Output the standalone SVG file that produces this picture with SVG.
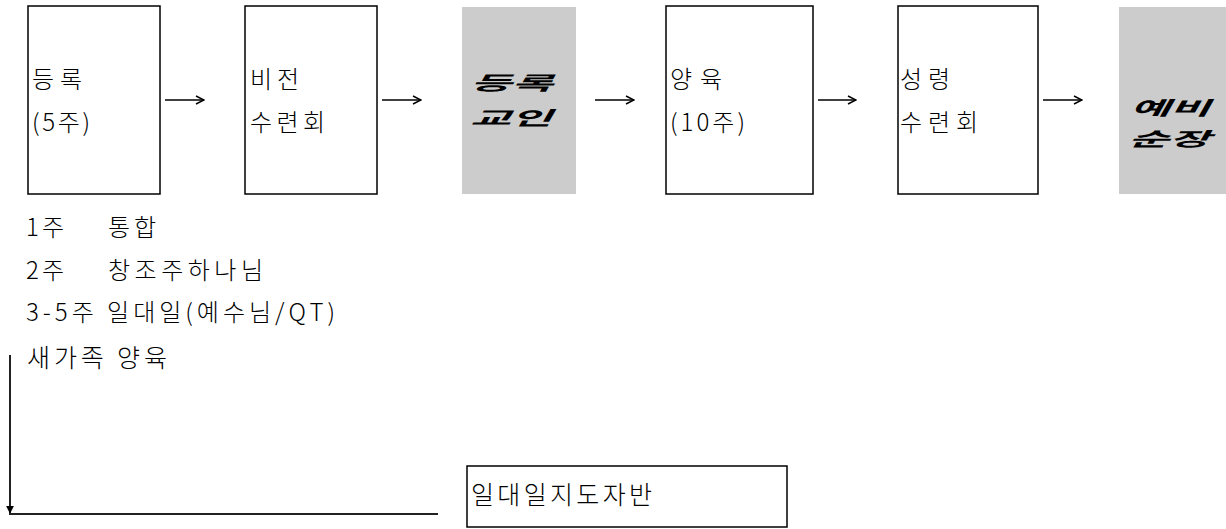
<svg xmlns="http://www.w3.org/2000/svg" width="1226" height="529" viewBox="0 0 1226 529">
<style>
.box{fill:#ffffff;stroke:#000000;stroke-width:1.5}
.gray{fill:#cccccc;stroke:none}
.t{font-family:"Noto Sans CJK KR","Liberation Sans",sans-serif;font-size:24px;fill:#000000;font-weight:300}
.bi{font-family:"Noto Sans CJK KR",sans-serif;font-size:19px;font-weight:700;font-style:italic;fill:#000000}
.s{font-family:"Noto Sans CJK KR","Liberation Serif",serif;font-size:25px;fill:#000000;font-weight:300}
.ln{stroke:#000000;stroke-width:1.5;fill:none}
.ln2{stroke:#222222;stroke-width:2;fill:none}
</style>
<defs>
<marker id="open" viewBox="0 0 10 10" refX="9" refY="5" markerWidth="10" markerHeight="10" markerUnits="userSpaceOnUse" orient="auto">
<path d="M1,1 L9,5 L1,9" fill="none" stroke="#000" stroke-width="1.4"/>
</marker>
<marker id="fill" viewBox="0 0 10 10" refX="9" refY="5" markerWidth="8" markerHeight="8" markerUnits="userSpaceOnUse" orient="auto">
<path d="M0,0 L10,5 L0,10 Z" fill="#000"/>
</marker>
</defs>
<g id="n1">
<rect class="box" x="28" y="6" width="132" height="188"/>
<text class="t" x="32" y="88" textLength="50" lengthAdjust="spacing">등록</text>
<text class="t" x="32" y="131" textLength="58" lengthAdjust="spacing">(5주)</text>
</g>
<g id="n2">
<rect class="box" x="245" y="6" width="132" height="188"/>
<text class="t" x="250" y="88" textLength="49" lengthAdjust="spacing">비전</text>
<text class="t" x="250" y="131" textLength="75" lengthAdjust="spacing">수련회</text>
</g>
<g id="n3">
<rect class="gray" x="462" y="7" width="114" height="187"/>
<text class="bi" x="470" y="90" textLength="83" lengthAdjust="spacingAndGlyphs">등록</text>
<text class="bi" x="470" y="125" textLength="82" lengthAdjust="spacingAndGlyphs">교인</text>
</g>
<g id="n4">
<rect class="box" x="666" y="6" width="147" height="188"/>
<text class="t" x="670" y="88" textLength="52" lengthAdjust="spacing">양육</text>
<text class="t" x="670" y="131" textLength="75" lengthAdjust="spacing">(10주)</text>
</g>
<g id="n5">
<rect class="box" x="898" y="6" width="140" height="188"/>
<text class="t" x="900" y="88" textLength="50" lengthAdjust="spacing">성령</text>
<text class="t" x="900" y="131" textLength="78" lengthAdjust="spacing">수련회</text>
</g>
<g id="n6">
<rect class="gray" x="1119" y="7" width="107" height="187"/>
<text class="bi" x="1130" y="115" textLength="80" lengthAdjust="spacingAndGlyphs">예비</text>
<text class="bi" x="1128" y="146" textLength="82" lengthAdjust="spacingAndGlyphs">순장</text>
</g>
<g id="notes">
<text class="t" x="26" y="236" textLength="38" lengthAdjust="spacing">1주</text>
<text class="t" x="108" y="236" textLength="48" lengthAdjust="spacing">통합</text>
<text class="t" x="26" y="279" textLength="38" lengthAdjust="spacing">2주</text>
<text class="t" x="108" y="279" textLength="155" lengthAdjust="spacing">창조주하나님</text>
<text class="t" x="26" y="321" textLength="309" lengthAdjust="spacing">3-5주 일대일(예수님/QT)</text>
</g>
<g id="n7">
<text class="s" x="27" y="367" textLength="140" lengthAdjust="spacing">새가족 양육</text>
</g>
<g id="n8">
<rect class="box" x="467" y="466" width="320" height="61"/>
<text class="s" x="471" y="504" textLength="181" lengthAdjust="spacing">일대일지도자반</text>
</g>
<g id="connectors">
<line class="ln" x1="165" y1="100" x2="204" y2="100" marker-end="url(#open)"/>
<line class="ln" x1="382" y1="100" x2="421" y2="100" marker-end="url(#open)"/>
<line class="ln" x1="595" y1="100" x2="634" y2="100" marker-end="url(#open)"/>
<line class="ln" x1="818" y1="100" x2="856" y2="100" marker-end="url(#open)"/>
<line class="ln" x1="1043" y1="100" x2="1082" y2="100" marker-end="url(#open)"/>
<line class="ln2" x1="10" y1="355" x2="10" y2="513" marker-end="url(#fill)"/>
<line class="ln2" x1="9" y1="514" x2="438" y2="514"/>
</g>
</svg>
